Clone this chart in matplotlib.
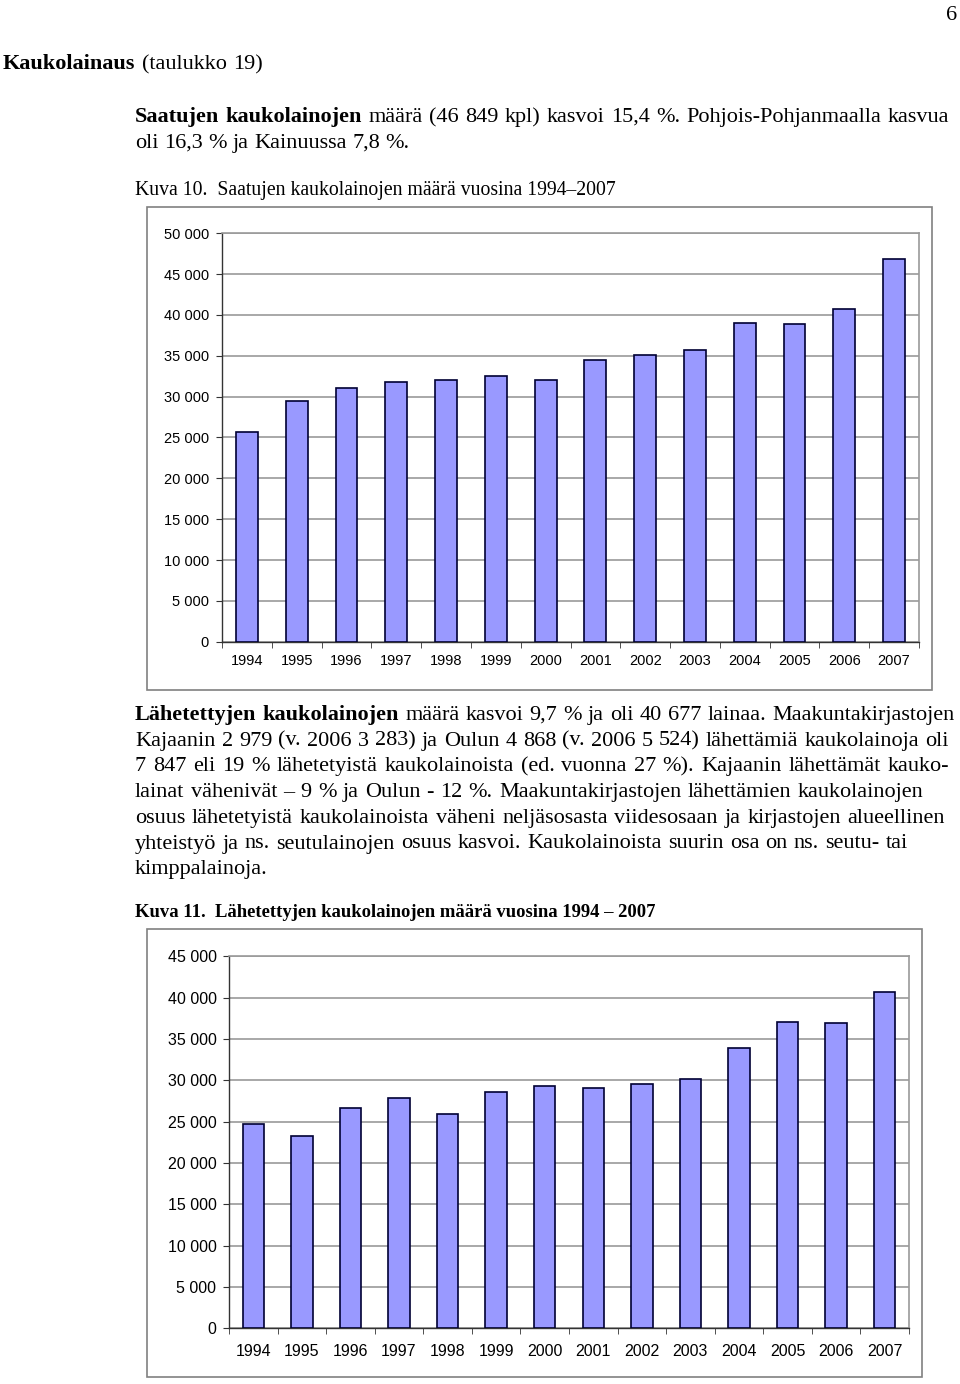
import numpy as np
import matplotlib
matplotlib.use('Agg')
import matplotlib.pyplot as plt
from matplotlib.patches import Rectangle

# data
years = ['1994', '1995', '1996', '1997', '1998', '1999', '2000',
         '2001', '2002', '2003', '2004', '2005', '2006', '2007']
received = [25650, 29480, 31100, 31770, 32050, 32540, 32050,
            34500, 35070, 35700, 39060, 38900, 40700, 46849]
sent = [24700, 23300, 26700, 27900, 25900, 28600, 29300,
        29100, 29500, 30200, 33900, 37100, 36950, 40677]

W, H = 960, 1384
fig = plt.figure(figsize=(W / 100, H / 100), dpi=100)
fig.patch.set_facecolor('white')
renderer = fig.canvas.get_renderer()

serif = 'Liberation Serif'
sans = 'Liberation Sans'


def fx(x):
    return x / W


def fy(y):
    return 1 - y / H


def text_width(s, size, weight='normal', family=serif):
    t = fig.text(0, 0, s, fontsize=size, fontweight=weight, family=family)
    w = t.get_window_extent(renderer).width
    t.remove()
    return w


def draw_line(x0, y, runs, size, x1=None):
    # runs: list of (text, weight); words are placed one by one so that
    # justified lines can be stretched to the right margin
    words = []
    for s, weight in runs:
        for w in s.split(' '):
            if w:
                words.append((w, weight))
    widths = [text_width(w, size, wt) for w, wt in words]
    space = text_width('x x', size) - text_width('xx', size)
    if x1 is not None and len(words) > 1:
        gap = (x1 - x0 - sum(widths)) / (len(words) - 1)
    else:
        gap = space
    x = x0
    for (w, wt), ww in zip(words, widths):
        fig.text(fx(x), fy(y), w, fontsize=size, fontweight=wt,
                 family=serif, va='baseline', ha='left')
        x += ww + gap


def fit_line(x0, y, s, weight, x1):
    # one text whose size is chosen so it spans x0..x1
    size = 14 * (x1 - x0) / text_width(s, 14, weight)
    fig.text(fx(x0), fy(y), s, fontsize=size, fontweight=weight,
             family=serif, va='baseline', ha='left')


# body size calibrated on an unjustified line
body = round(2 * 14 * 276 / text_width('oli 16,3 % ja Kainuussa 7,8 %.', 14)) / 2

fig.text(fx(957), fy(20), '6', fontsize=body, family=serif, ha='right', va='baseline')
draw_line(3, 69, [('Kaukolainaus', 'bold'), (' (taulukko 19)', 'normal')], body, 263)

draw_line(135, 122, [('Saatujen kaukolainojen', 'bold'),
                     (' määrä (46 849 kpl) kasvoi 15,4 %. Pohjois-Pohjanmaalla kasvua', 'normal')],
          body, 949)
draw_line(135, 148, [('oli 16,3 % ja Kainuussa 7,8 %.', 'normal')], body)

fit_line(135, 195, 'Kuva 10.  Saatujen kaukolainojen määrä vuosina 1994–2007', 'normal', 617)

para = [
    ([('Lähetettyjen kaukolainojen', 'bold'),
      (' määrä kasvoi 9,7 % ja oli 40 677 lainaa. Maakuntakirjastojen', 'normal')], 955),
    ([('Kajaanin 2 979 (v. 2006 3 283) ja Oulun 4 868 (v. 2006 5 524) lähettämiä kaukolainoja oli', 'normal')], 949),
    ([('7 847 eli 19 % lähetetyistä kaukolainoista (ed. vuonna 27 %). Kajaanin lähettämät kauko-', 'normal')], 949),
    ([('lainat vähenivät – 9 % ja Oulun - 12 %. Maakuntakirjastojen lähettämien kaukolainojen', 'normal')], 923),
    ([('osuus lähetetyistä kaukolainoista väheni neljäsosasta viidesosaan ja kirjastojen alueellinen', 'normal')], 945),
    ([('yhteistyö ja ns. seutulainojen osuus kasvoi. Kaukolainoista suurin osa on ns. seutu- tai', 'normal')], 908),
    ([('kimppalainoja.', 'normal')], None),
]
for i, (runs, right) in enumerate(para):
    draw_line(135, 720 + i * 25.7, runs, body, right)

fit_line(135, 917, 'Kuva 11.  Lähetettyjen kaukolainojen määrä vuosina 1994 – 2007', 'bold', 658)

# chart frames
fig.patches.append(Rectangle((fx(147), fy(690)), fx(932) - fx(147), fy(207) - fy(690),
                             transform=fig.transFigure, fill=False, ec='#808080', lw=1.2))
fig.patches.append(Rectangle((fx(147), fy(1377)), fx(922) - fx(147), fy(929) - fy(1377),
                             transform=fig.transFigure, fill=False, ec='#808080', lw=1.2))


def bar_chart(box, values, ymax, fsize, xpad, ypad):
    left, top, right, bottom = box
    ax = fig.add_axes([fx(left), fy(bottom), fx(right) - fx(left), fy(top) - fy(bottom)])
    x = np.arange(len(years))
    ax.bar(x, values, width=0.44, color='#9999FF', edgecolor='#000033', linewidth=1.2, zorder=3)
    ax.set_xlim(-0.5, len(years) - 0.5)
    ax.set_ylim(0, ymax)
    ticks = np.arange(0, ymax + 1, 5000)
    ax.set_yticks(ticks)
    ax.set_yticklabels([f'{int(v):,}'.replace(',', ' ') for v in ticks],
                       fontsize=fsize, family=sans)
    ax.set_xticks(x)
    ax.set_xticklabels(years, fontsize=fsize, family=sans)
    ax.set_xticks(np.arange(-0.5, len(years)), minor=True)
    ax.tick_params(axis='x', which='major', length=0, pad=xpad)
    ax.tick_params(axis='x', which='minor', length=4, direction='out', color='#333333')
    ax.tick_params(axis='y', length=4, direction='out', pad=ypad, color='#333333')
    ax.yaxis.grid(True, color='#9a9a9a', lw=1.2)
    ax.set_axisbelow(True)
    for s in ('left', 'bottom'):
        ax.spines[s].set_color('#333333')
        ax.spines[s].set_linewidth(1)
    for s in ('top', 'right'):
        ax.spines[s].set_color('#9a9a9a')
        ax.spines[s].set_linewidth(1.2)
    return ax


bar_chart((222, 233.3, 919, 641.7), received, 50000, 10.5, 9, 5.5)
bar_chart((229, 956.3, 909, 1328.3), sent, 45000, 11.5, 11, 5)

fig.savefig('out.png', dpi=100)
